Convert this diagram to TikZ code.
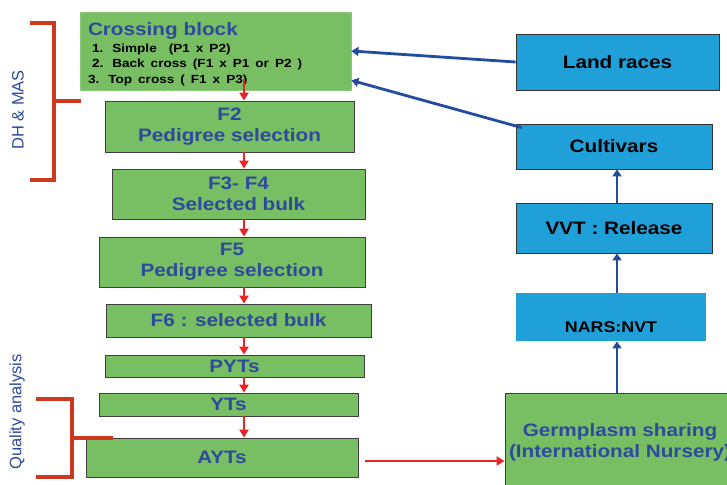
\documentclass[tikz,border=0pt]{standalone}
\usepackage{fontspec}
\setmainfont{Liberation Sans}[FakeStretch=1.15]
\newfontfamily\sidefont{Liberation Sans}
\usepackage{xcolor}
\usepackage{tikz}
\usetikzlibrary{arrows.meta,positioning}

\definecolor{boxgreen}{RGB}{120,190,98}
\definecolor{boxblue}{RGB}{32,160,216}
\definecolor{txtblue}{RGB}{46,74,158}
\definecolor{arrred}{RGB}{232,36,40}
\definecolor{brkred}{RGB}{205,56,30}
\definecolor{arrblue}{RGB}{35,75,160}

\begin{document}
\begin{tikzpicture}[
  x=1pt, y=-1pt,
  gbox/.style={draw=black!75, line width=0.8pt, fill=boxgreen, align=center,
    text=txtblue, font=\bfseries\fontsize{18}{21}\selectfont, inner sep=0pt},
  bbox/.style={draw=black!80, line width=0.8pt, fill=boxblue, align=center,
    text=black, font=\bfseries\fontsize{18}{21}\selectfont, inner sep=0pt},
  redarrow/.style={-{Triangle[length=8pt,width=9pt]}, arrred, line width=2.8pt},
  bluearrow/.style={-{Triangle[length=7pt,width=9pt]}, arrblue, line width=2.8pt},
  bracket/.style={brkred, line width=3.2pt},
  sidelabel/.style={rotate=90, text=txtblue, font=\sidefont\fontsize{16.5}{18}\selectfont}
]
  \useasboundingbox (0,0) rectangle (727,484);
  \clip (0,0) rectangle (727,484);

  % breeding line (left)
  \node[gbox, draw=boxgreen!85!white, minimum width=271pt, minimum height=78pt,
    text width=255pt, align=left] (cross) at (215.5,51)
    {\fontsize{11.8}{15}\selectfont
     \begin{tabular}{@{}l@{}}
     \rule{0pt}{21pt}\fontsize{18}{20}\selectfont Crossing block\\[2pt]
     \color{black}\hspace{4pt}1. Simple~ (P1 x P2)\\
     \color{black}\hspace{4pt}2. Back cross (F1 x P1 or P2 )\\[1pt]
     \color{black}3. Top cross ( F1 x P3)
     \end{tabular}};
  \node[gbox, minimum width=249pt, minimum height=51pt] (f2) at (229.5,126.5)
    {F2\\Pedigree selection};
  \node[gbox, minimum width=253pt, minimum height=50pt] (f34) at (238.5,194)
    {F3- F4\\Selected bulk};
  \node[gbox, minimum width=266pt, minimum height=50pt] (f5) at (232,262)
    {F5\\Pedigree selection};
  \node[gbox, minimum width=265pt, minimum height=33pt] (f6) at (238.5,320.5)
    {F6 : selected bulk};
  \node[gbox, minimum width=259pt, minimum height=22pt] (pyt) at (234.5,366) {PYTs};
  \node[gbox, minimum width=259pt, minimum height=23pt] (yt) at (228.5,404.5) {YTs};
  \node[gbox, minimum width=272pt, minimum height=39pt] (ayt) at (222,457.5) {AYTs};

  % release line (right)
  \node[gbox, minimum width=230pt, minimum height=99pt] (germ) at (620,442.5)
    {Germplasm sharing\\(International Nursery)};
  \node[bbox, draw=none, minimum width=190pt, minimum height=48pt] (nars) at (611,317) {};
  \node[font=\bfseries\fontsize{15.5}{18}\selectfont] (narstxt) at ([yshift=-10pt]nars.center)
    {NARS:NVT};
  \node[bbox, minimum width=196pt, minimum height=50pt] (vvt) at (614,228) {VVT : Release};
  \node[bbox, minimum width=196pt, minimum height=45pt] (cult) at (614,146.5) {Cultivars};
  \node[bbox, minimum width=203pt, minimum height=56pt] (land) at (617.5,62) {Land races};

  \coordinate (rspine) at (244,0);
  \coordinate (bspine) at (617,0);

  \draw[redarrow] ([yshift=11pt]cross.south -| rspine) -- (f2.north -| rspine);
  \draw[redarrow] (f2.south -| rspine) -- (f34.north -| rspine);
  \draw[redarrow] (f34.south -| rspine) -- (f5.north -| rspine);
  \draw[redarrow] (f5.south -| rspine) -- (f6.north -| rspine);
  \draw[redarrow] (f6.south -| rspine) -- (pyt.north -| rspine);
  \draw[redarrow] (pyt.south -| rspine) -- (yt.north -| rspine);
  \draw[redarrow] (yt.south -| rspine) -- (ayt.north -| rspine);
  \draw[redarrow] ([xshift=7pt,yshift=-3.5pt]ayt.east) -- ([yshift=-3.5pt]ayt.east -| germ.west);

  \draw[bluearrow] (germ.north -| bspine) -- (nars.south -| bspine);
  \draw[bluearrow] (nars.north -| bspine) -- (vvt.south -| bspine);
  \draw[bluearrow] (vvt.north -| bspine) -- (cult.south -| bspine);
  \draw[bluearrow] (land.west) -- (cross.east);
  \draw[bluearrow] ([xshift=6pt,yshift=-4pt]cult.north west) -- ([yshift=10pt]cross.south east);

  % brackets
  \draw[bracket] (30,23) -- (54,23) -- (54,180) -- (30,180);
  \draw[bracket] (54,101) -- (81,101);
  \node[sidelabel] (dhmas) at (18,110) {DH \& MAS};
  \draw[bracket] (36,399) -- (72,399) -- (72,477) -- (36,477);
  \draw[bracket] (72,438) -- (113,438);
  \node[sidelabel] (qual) at (17,412) {Quality analysis};
\end{tikzpicture}
\end{document}
